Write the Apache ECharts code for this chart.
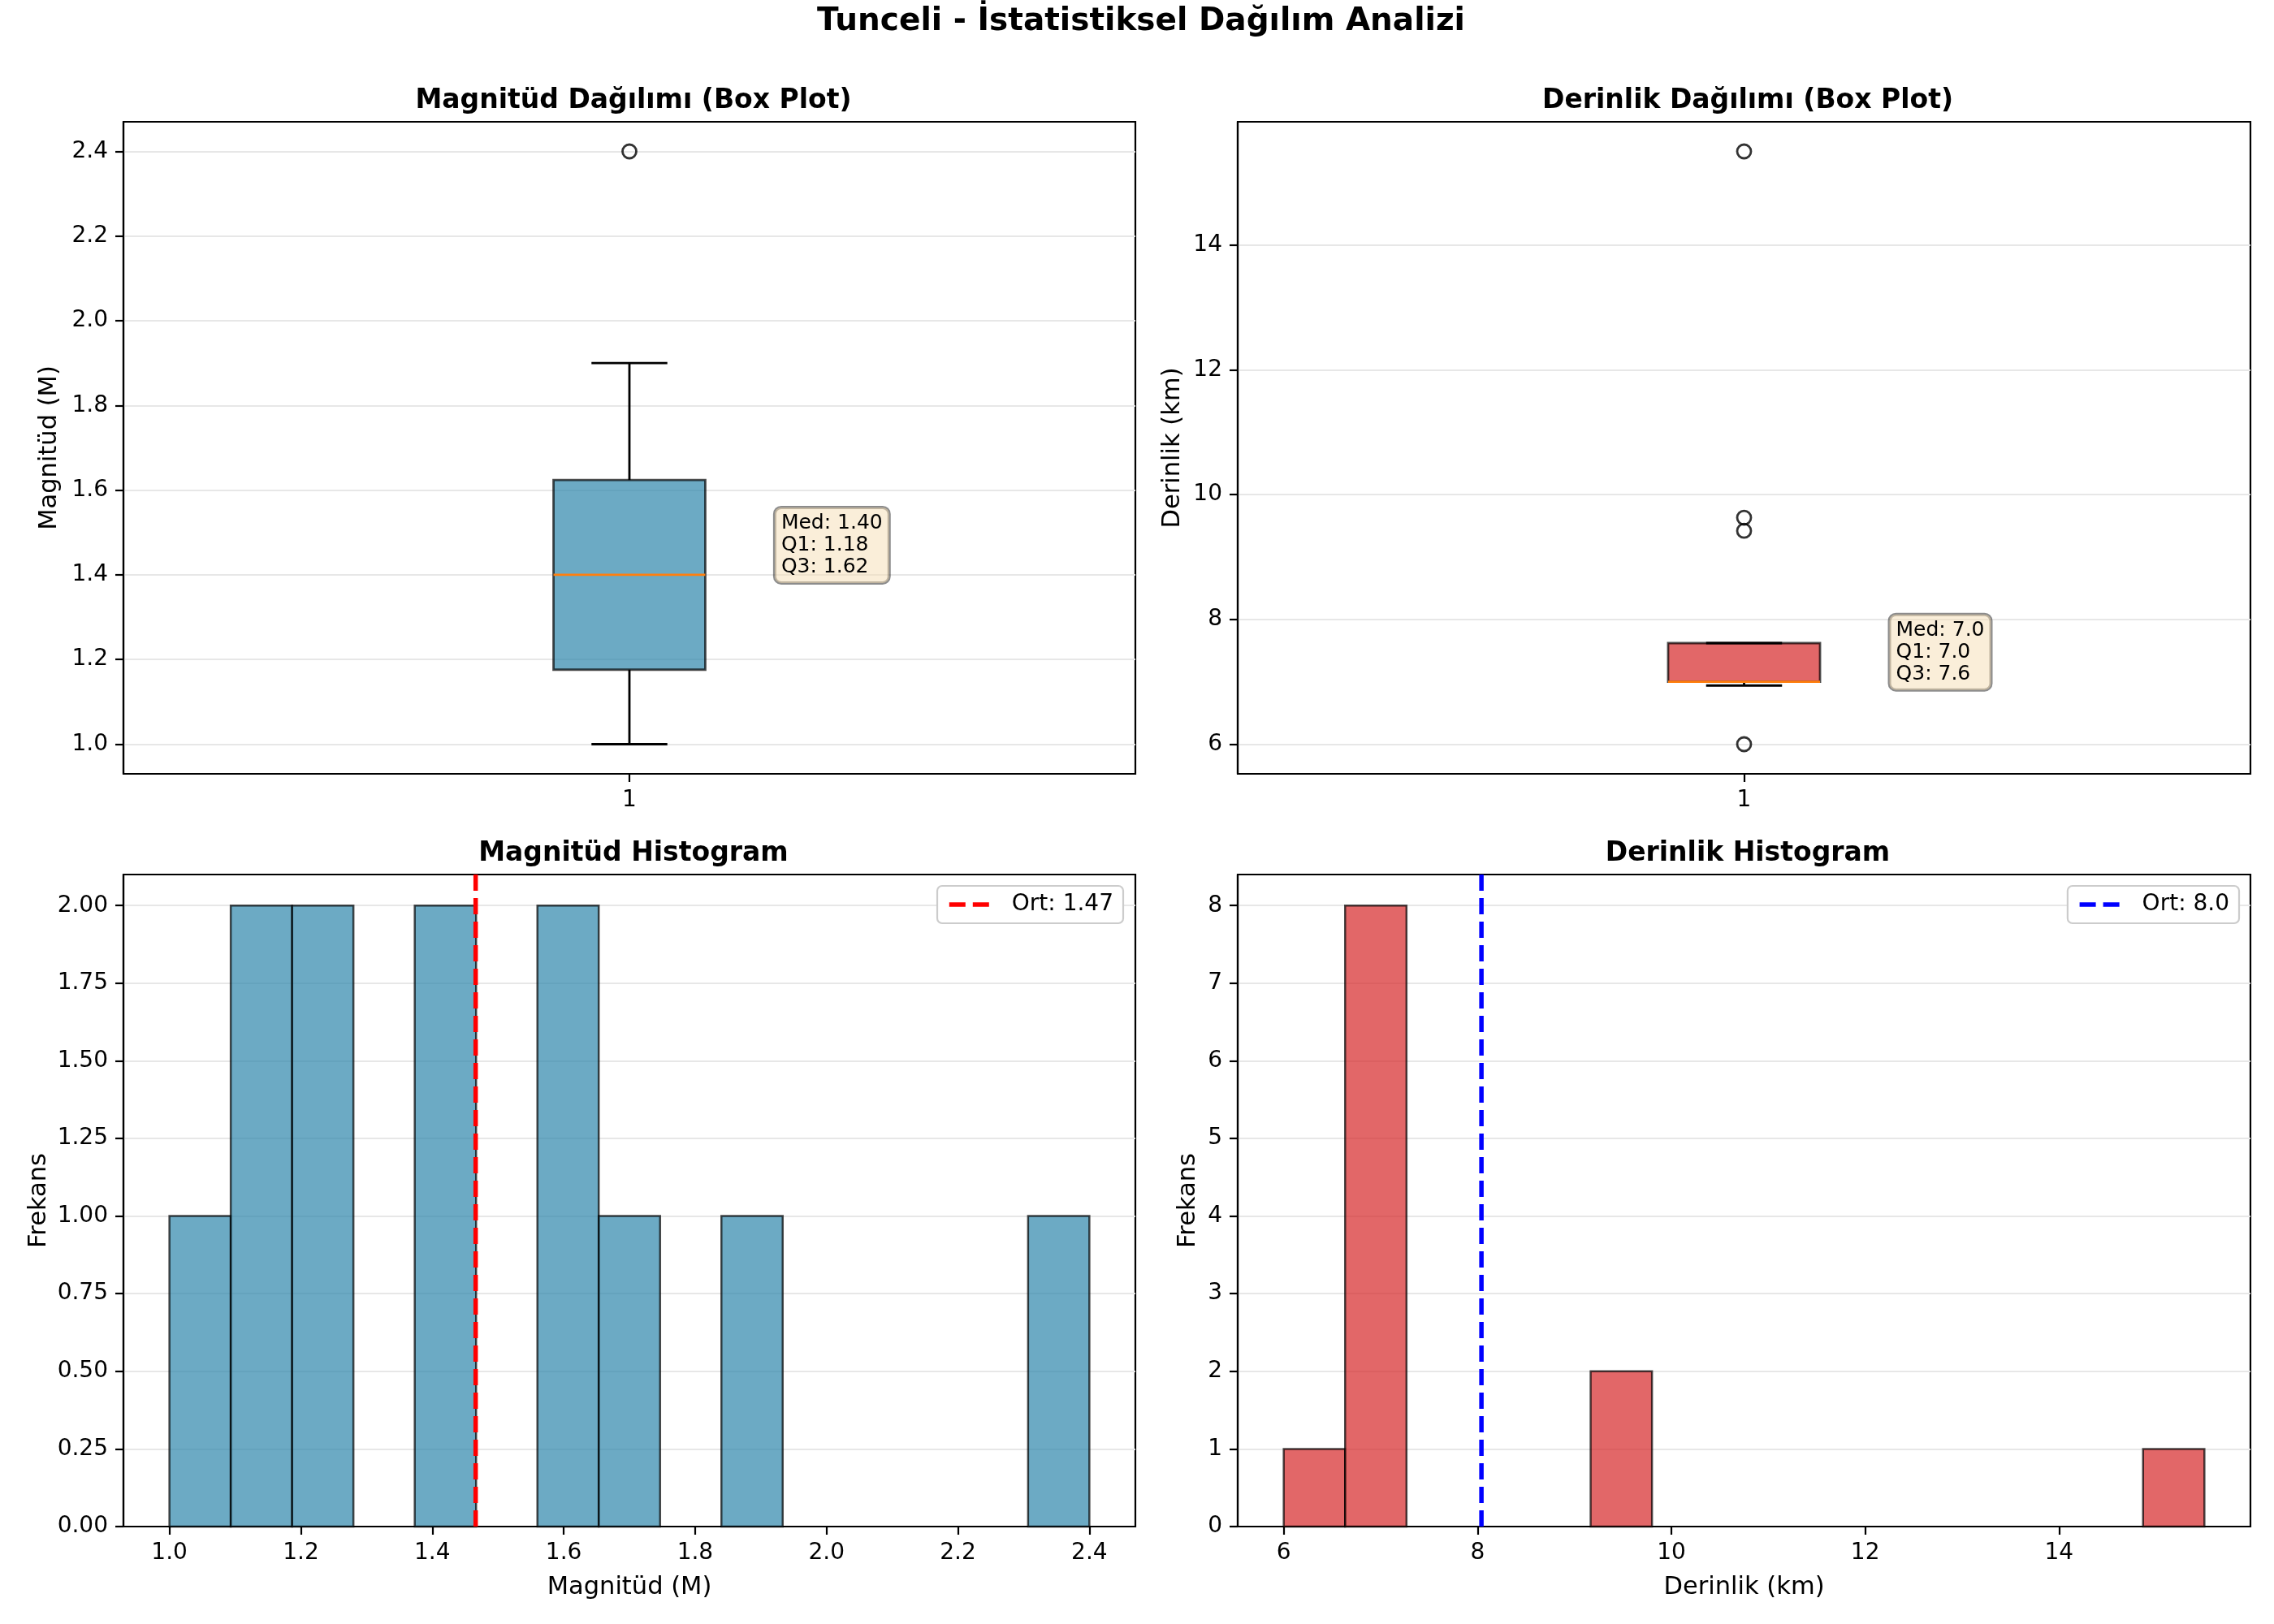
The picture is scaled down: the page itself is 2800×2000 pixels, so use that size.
<!DOCTYPE html>
<html>
<head>
<meta charset="utf-8">
<title>Tunceli - İstatistiksel Dağılım Analizi</title>
<script src="https://cdn.jsdelivr.net/npm/echarts@6/dist/echarts.min.js"></script>
<style>
    html, body { margin: 0; padding: 0; background: #fff; }
    #chart { width: 2800px; height: 2000px; }
</style>
</head>
<body>
<div id="chart"></div>
<script>
// box plot stats: [alt bıyık, Q1, medyan, Q3, üst bıyık]
var magBox = [1.0, 1.176, 1.40, 1.624, 1.9];
var magOutliers = [2.4];
var depthBox = [6.94, 7.0, 7.0, 7.62, 7.62];
var depthOutliers = [6.0, 9.42, 9.63, 15.5];

// histogram kutuları
var magBinEdges = [1.0, 1.0933, 1.1867, 1.28, 1.3733, 1.4667, 1.56, 1.6533, 1.7467, 1.84, 1.9333, 2.0267, 2.12, 2.2133, 2.3067, 2.4];
var magCounts = [1, 2, 2, 0, 2, 0, 2, 1, 0, 1, 0, 0, 0, 0, 1];
var depthBinEdges = [6.0, 6.6333, 7.2667, 7.9, 8.5333, 9.1667, 9.8, 10.4333, 11.0667, 11.7, 12.3333, 12.9667, 13.6, 14.2333, 14.8667, 15.5];
var depthCounts = [1, 8, 0, 0, 0, 2, 0, 0, 0, 0, 0, 0, 0, 0, 1];
var magMean = 1.466;
var depthMean = 8.04;

// eksen işaretleri
var magTicks = [1.0, 1.2, 1.4, 1.6, 1.8, 2.0, 2.2, 2.4];
var depthTicks = [6, 8, 10, 12, 14];
var magFreqTicks = [0, 0.25, 0.5, 0.75, 1.0, 1.25, 1.5, 1.75, 2.0];
var depthFreqTicks = [0, 1, 2, 3, 4, 5, 6, 7, 8];
var boxTicks = [1];

var FONT = 'DejaVu Sans';
var magFill = 'rgba(46,134,171,0.7)';
var depthFill = 'rgba(214,39,40,0.7)';
var edge = 'rgba(0,0,0,0.7)';
var dash = [20, 9];

var grids = [
    { left: 152, top: 150, width: 1246, height: 803 },
    { left: 1524, top: 150, width: 1247, height: 803 },
    { left: 152, top: 1077, width: 1246, height: 803 },
    { left: 1524, top: 1077, width: 1247, height: 803 }
];

function makeAxis(gridIndex, min, max, ticks, digits, name, nameGap) {
    return {
        type: 'value',
        gridIndex: gridIndex,
        min: min,
        max: max,
        name: name,
        nameLocation: 'middle',
        nameGap: nameGap,
        nameTextStyle: { fontFamily: FONT, fontSize: 30.5, color: '#000' },
        axisLine: { show: true, onZero: false, lineStyle: { color: '#000', width: 2.2 } },
        axisTick: { show: true, customValues: ticks, length: 10, lineStyle: { color: '#000', width: 2.2 } },
        axisLabel: {
            customValues: ticks, margin: 19, fontFamily: FONT, fontSize: 28, color: '#000',
            formatter: function (v) { return digits == null ? String(v) : v.toFixed(digits); }
        },
        splitLine: { show: false }
    };
}

function withGrid(axis) {
    axis.splitLine = { show: true, lineStyle: { color: '#e7e7e7', width: 2.2 } };
    return axis;
}

function boxRender(fill) {
    return function (params, api) {
        var x = api.value(0);
        var lo = api.value(1), q1 = api.value(2), med = api.value(3), q3 = api.value(4), hi = api.value(5);
        var hb = 0.075, hc = 0.0375;
        var a = api.coord([x - hb, q3]);
        var b = api.coord([x + hb, q1]);
        var c = api.coord([x, 0]);
        var cl = api.coord([x - hc, 0]), cr = api.coord([x + hc, 0]);
        var y = function (v) { return api.coord([x, v])[1]; };
        var ln = { stroke: '#000', lineWidth: 2.8 };
        return {
            type: 'group',
            children: [
                { type: 'rect', shape: { x: a[0], y: a[1], width: b[0] - a[0], height: b[1] - a[1] },
                  style: { fill: fill, stroke: edge, lineWidth: 2.8 } },
                { type: 'line', shape: { x1: c[0], y1: y(q1), x2: c[0], y2: y(lo) }, style: ln },
                { type: 'line', shape: { x1: c[0], y1: y(q3), x2: c[0], y2: y(hi) }, style: ln },
                { type: 'line', shape: { x1: cl[0], y1: y(lo), x2: cr[0], y2: y(lo) }, style: ln },
                { type: 'line', shape: { x1: cl[0], y1: y(hi), x2: cr[0], y2: y(hi) }, style: ln },
                { type: 'line', shape: { x1: a[0], y1: y(med), x2: b[0], y2: y(med) },
                  style: { stroke: '#ff7f0e', lineWidth: 2.8 } }
            ]
        };
    };
}

function noteRender(digits) {
    return function (params, api) {
        var p = api.coord([api.value(0), api.value(1)]);
        var txt = 'Med: ' + api.value(2).toFixed(digits) + '\nQ1: ' + api.value(3).toFixed(digits) +
            '\nQ3: ' + api.value(4).toFixed(digits);
        return {
            type: 'text',
            x: p[0] - 8,
            y: p[1] + 10,
            style: {
                text: txt, fill: '#000', font: '25px "DejaVu Sans"', lineHeight: 27,
                align: 'left', verticalAlign: 'bottom',
                backgroundColor: 'rgba(245,222,179,0.5)', borderColor: 'rgba(0,0,0,0.45)',
                borderWidth: 2, borderRadius: 8, padding: [6, 8, 6, 8]
            }
        };
    };
}

function histRender(fill) {
    return function (params, api) {
        if (!api.value(2)) return null;
        var a = api.coord([api.value(0), api.value(2)]);
        var b = api.coord([api.value(1), 0]);
        return {
            type: 'rect',
            shape: { x: a[0], y: a[1], width: b[0] - a[0], height: b[1] - a[1] },
            style: { fill: fill, stroke: edge, lineWidth: 2.5 }
        };
    };
}

function histData(edges, counts) {
    return counts.map(function (c, i) { return [edges[i], edges[i + 1], c]; });
}

function makeLegend(name, right, color) {
    return {
        data: [name],
        right: right,
        top: 1091,
        orient: 'vertical',
        itemWidth: 56,
        itemHeight: 16,
        padding: [9, 12, 9, 12],
        backgroundColor: '#fff',
        borderColor: '#cccccc',
        borderWidth: 2.2,
        borderRadius: 6,
        selectedMode: false,
        itemStyle: { opacity: 0 },
        lineStyle: { color: color, width: 5.5, type: dash },
        textStyle: { fontFamily: FONT, fontSize: 28, color: '#000', padding: [0, 0, 0, 16] }
    };
}

var magMeanName = 'Ort: ' + magMean.toFixed(2);
var depthMeanName = 'Ort: ' + depthMean.toFixed(1);

var chart = echarts.init(document.getElementById('chart'), null, { renderer: 'canvas' });
chart.setOption({
    animation: false,
    backgroundColor: '#fff',
    title: [
        { text: 'Tunceli - İstatistiksel Dağılım Analizi', left: 1400, top: 2, textAlign: 'center',
          textStyle: { fontFamily: FONT, fontSize: 39, fontWeight: 'bold', color: '#000' } },
        { text: 'Magnitüd Dağılımı (Box Plot)', left: 775, top: 103, textAlign: 'center',
          textStyle: { fontFamily: FONT, fontSize: 33, fontWeight: 'bold', color: '#000' } },
        { text: 'Derinlik Dağılımı (Box Plot)', left: 2147, top: 103, textAlign: 'center',
          textStyle: { fontFamily: FONT, fontSize: 33, fontWeight: 'bold', color: '#000' } },
        { text: 'Magnitüd Histogram', left: 775, top: 1030, textAlign: 'center',
          textStyle: { fontFamily: FONT, fontSize: 33, fontWeight: 'bold', color: '#000' } },
        { text: 'Derinlik Histogram', left: 2147, top: 1030, textAlign: 'center',
          textStyle: { fontFamily: FONT, fontSize: 33, fontWeight: 'bold', color: '#000' } }
    ],
    legend: [makeLegend(magMeanName, 1417, '#ff0000'), makeLegend(depthMeanName, 43, '#0000ff')],
    grid: grids.map(function (g) {
        return { left: g.left, top: g.top, width: g.width, height: g.height, show: true,
                 borderColor: '#000', borderWidth: 2.2, backgroundColor: 'transparent' };
    }),
    xAxis: [
        makeAxis(0, 0.5, 1.5, boxTicks, null, '', 0),
        makeAxis(1, 0.5, 1.5, boxTicks, null, '', 0),
        makeAxis(2, 0.93, 2.47, magTicks, 1, 'Magnitüd (M)', 60),
        makeAxis(3, 5.525, 15.975, depthTicks, null, 'Derinlik (km)', 60)
    ],
    yAxis: [
        withGrid(makeAxis(0, 0.93, 2.47, magTicks, 1, 'Magnitüd (M)', 75)),
        withGrid(makeAxis(1, 5.525, 15.975, depthTicks, null, 'Derinlik (km)', 64)),
        withGrid(makeAxis(2, 0, 2.1, magFreqTicks, 2, 'Frekans', 88)),
        withGrid(makeAxis(3, 0, 8.4, depthFreqTicks, null, 'Frekans', 45))
    ],
    series: [
        { type: 'custom', name: 'magBox', xAxisIndex: 0, yAxisIndex: 0, z: 3,
          data: [[1].concat(magBox)], encode: { x: 0, y: [1, 5] }, renderItem: boxRender(magFill) },
        { type: 'scatter', xAxisIndex: 0, yAxisIndex: 0, z: 4, symbol: 'circle', symbolSize: 17,
          itemStyle: { color: 'rgba(0,0,0,0)', borderColor: '#000', borderWidth: 2.8 },
          data: magOutliers.map(function (v) { return [1, v]; }) },
        { type: 'custom', name: 'magNote', xAxisIndex: 0, yAxisIndex: 0, z: 5,
          data: [[1.15, magBox[2], magBox[2], magBox[1], magBox[3]]], encode: { x: 0, y: 1 },
          renderItem: noteRender(2) },

        { type: 'custom', name: 'depthBox', xAxisIndex: 1, yAxisIndex: 1, z: 3,
          data: [[1].concat(depthBox)], encode: { x: 0, y: [1, 5] }, renderItem: boxRender(depthFill) },
        { type: 'scatter', xAxisIndex: 1, yAxisIndex: 1, z: 4, symbol: 'circle', symbolSize: 17,
          itemStyle: { color: 'rgba(0,0,0,0)', borderColor: '#000', borderWidth: 2.8 },
          data: depthOutliers.map(function (v) { return [1, v]; }) },
        { type: 'custom', name: 'depthNote', xAxisIndex: 1, yAxisIndex: 1, z: 5,
          data: [[1.15, depthBox[2], depthBox[2], depthBox[1], depthBox[3]]], encode: { x: 0, y: 1 },
          renderItem: noteRender(1) },

        { type: 'custom', name: 'magHist', xAxisIndex: 2, yAxisIndex: 2, z: 3,
          data: histData(magBinEdges, magCounts), encode: { x: [0, 1], y: 2 }, renderItem: histRender(magFill) },
        { type: 'line', name: magMeanName, xAxisIndex: 2, yAxisIndex: 2, z: 4, symbol: 'none',
          lineStyle: { color: '#ff0000', width: 5.5, type: dash }, itemStyle: { color: '#ff0000' },
          data: [[magMean, 0], [magMean, 2.1]] },

        { type: 'custom', name: 'depthHist', xAxisIndex: 3, yAxisIndex: 3, z: 3,
          data: histData(depthBinEdges, depthCounts), encode: { x: [0, 1], y: 2 }, renderItem: histRender(depthFill) },
        { type: 'line', name: depthMeanName, xAxisIndex: 3, yAxisIndex: 3, z: 4, symbol: 'none',
          lineStyle: { color: '#0000ff', width: 5.5, type: dash }, itemStyle: { color: '#0000ff' },
          data: [[depthMean, 0], [depthMean, 8.4]] }
    ]
});
</script>
</body>
</html>
